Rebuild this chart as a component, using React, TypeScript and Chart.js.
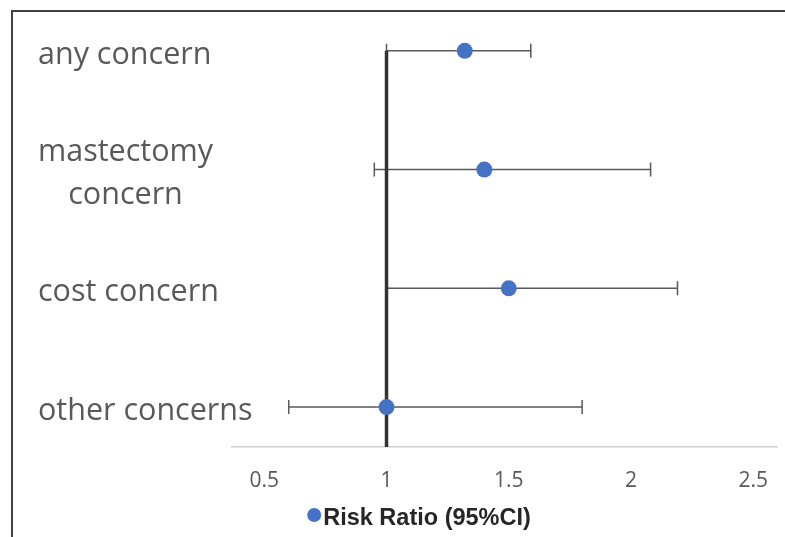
import React, { useEffect, useRef } from "react";
import { Chart, registerables } from "chart.js";

Chart.register(...registerables);

// ---- data ----
const categories: (string | string[])[] = [
  "any concern",
  ["mastectomy", "concern"],
  "cost concern",
  "other concerns",
];
const riskRatio = [1.32, 1.4, 1.5, 1.0];
const ciLow = [1.0, 0.95, 1.0, 0.6];
const ciHigh = [1.59, 2.08, 2.19, 1.8];
const xTicks = [0.5, 1, 1.5, 2, 2.5];
const referenceValue = 1;
const seriesLabel = "Risk Ratio (95%CI)";

// ---- styling ----
const CANVAS_W = 840;
const CANVAS_H = 537;
const X_MIN = 0.368;
const X_MAX = 2.597;
const Y_MIN = 0.664;
const Y_MAX = 4.26;
const POINT_COLOR = "#4472C4";
const TEXT_GRAY = "#595959";
const CAT_FONT = "'Open Sans', 'DejaVu Sans', sans-serif";
const LEGEND_FONT = "bold 23.5px 'Liberation Sans', Arial, sans-serif";

const rowOf = (i: number) => categories.length - i;

const borderPlugin = {
  id: "outerBorder",
  beforeDraw(chart: any) {
    const ctx = chart.ctx;
    ctx.save();
    ctx.fillStyle = "#ffffff";
    ctx.fillRect(0, 0, chart.width, chart.height);
    ctx.strokeStyle = "#404040";
    ctx.lineWidth = 2;
    ctx.strokeRect(12, 11, chart.width + 50, chart.height + 50);
    ctx.restore();
  },
};

const categoryLabelPlugin = {
  id: "categoryLabels",
  afterDraw(chart: any) {
    const ctx = chart.ctx;
    const ys = chart.scales.y;
    const left = ys.left;
    const lineGap = 43;
    ctx.save();
    ctx.font = `30.5px ${CAT_FONT}`;
    ctx.fillStyle = TEXT_GRAY;
    ctx.textBaseline = "middle";
    categories.forEach((lab, i) => {
      const yc = ys.getPixelForValue(rowOf(i)) + 4;
      const lines = Array.isArray(lab) ? lab : [lab];
      const widths = lines.map((l) => ctx.measureText(l).width);
      const maxW = Math.max(...widths);
      lines.forEach((l, k) => {
        const y = yc + (k - (lines.length - 1) / 2) * lineGap;
        if (lines.length > 1) {
          ctx.textAlign = "center";
          ctx.fillText(l, left + maxW / 2, y);
        } else {
          ctx.textAlign = "left";
          ctx.fillText(l, left, y);
        }
      });
    });
    ctx.restore();
  },
};

const errorBarPlugin = {
  id: "errorBars",
  beforeDatasetsDraw(chart: any) {
    const ctx = chart.ctx;
    const xs = chart.scales.x;
    const ys = chart.scales.y;
    ctx.save();
    ctx.strokeStyle = "#595959";
    ctx.lineWidth = 1.5;
    const cap = 7;
    categories.forEach((_, i) => {
      const y = ys.getPixelForValue(rowOf(i));
      const x0 = xs.getPixelForValue(ciLow[i]);
      const x1 = xs.getPixelForValue(ciHigh[i]);
      ctx.beginPath();
      ctx.moveTo(x0, y);
      ctx.lineTo(x1, y);
      ctx.moveTo(x0, y - cap);
      ctx.lineTo(x0, y + cap);
      ctx.moveTo(x1, y - cap);
      ctx.lineTo(x1, y + cap);
      ctx.stroke();
    });
    ctx.restore();
  },
};

const legendPlugin = {
  id: "customLegend",
  afterDraw(chart: any) {
    const ctx = chart.ctx;
    ctx.save();
    ctx.font = LEGEND_FONT;
    const tw = ctx.measureText(seriesLabel).width;
    const r = 7;
    const gap = 2;
    const total = 2 * r + gap + tw;
    const left = chart.width / 2 - total / 2 - 1;
    const cy = chart.chartArea.bottom + 72;
    ctx.fillStyle = POINT_COLOR;
    ctx.beginPath();
    ctx.arc(left + r, cy - 4, r, 0, Math.PI * 2);
    ctx.fill();
    ctx.fillStyle = "#262626";
    ctx.textBaseline = "middle";
    ctx.textAlign = "left";
    ctx.fillText(seriesLabel, left + 2 * r + gap, cy);
    ctx.restore();
  },
};

export default function App() {
  const canvasRef = useRef<HTMLCanvasElement | null>(null);

  useEffect(() => {
    if (!canvasRef.current) return;
    const chart = new Chart(canvasRef.current, {
      type: "scatter",
      data: {
        datasets: [
          {
            label: seriesLabel,
            data: riskRatio.map((v, i) => ({ x: v, y: rowOf(i) })),
            backgroundColor: POINT_COLOR,
            borderColor: POINT_COLOR,
            borderWidth: 0,
            pointRadius: 8,
            pointHoverRadius: 8,
            order: 0,
          },
          {
            label: "reference",
            data: [
              { x: referenceValue, y: rowOf(0) },
              { x: referenceValue, y: Y_MIN },
            ],
            showLine: true,
            borderColor: "#333333",
            borderWidth: 3.5,
            pointRadius: 0,
            order: 1,
          } as any,
        ],
      },
      options: {
        responsive: false,
        animation: false,
        devicePixelRatio: 1,
        layout: { padding: { top: 20, left: 38, right: CANVAS_W - 777, bottom: 0 } },
        plugins: {
          legend: { display: false },
          tooltip: { enabled: false },
        },
        scales: {
          x: {
            type: "linear",
            min: X_MIN,
            max: X_MAX,
            afterBuildTicks: (scale: any) => {
              scale.ticks = xTicks.map((v) => ({ value: v }));
            },
            afterFit: (scale: any) => {
              scale.height = 90;
            },
            grid: { display: false, drawTicks: false },
            border: { display: true, color: "#d0d0d0", width: 1.5 },
            ticks: {
              color: TEXT_GRAY,
              padding: 21,
              font: { family: CAT_FONT, size: 21 },
              callback: (v: any) => String(v),
            },
          },
          y: {
            type: "linear",
            min: Y_MIN,
            max: Y_MAX,
            afterFit: (scale: any) => {
              scale.width = 232 - 38;
            },
            grid: { display: false, drawTicks: false },
            border: { display: false },
            ticks: { display: false },
          },
        },
      } as any,
      plugins: [borderPlugin, errorBarPlugin, categoryLabelPlugin, legendPlugin],
    });
    return () => chart.destroy();
  }, []);

  return (
    <div
      style={{
        position: "fixed",
        left: 0,
        top: 0,
        width: 785,
        height: 537,
        overflow: "hidden",
        background: "#fff",
      }}
    >
      <canvas
        ref={canvasRef}
        width={CANVAS_W}
        height={CANVAS_H}
        style={{ display: "block", width: CANVAS_W, height: CANVAS_H }}
      />
    </div>
  );
}
